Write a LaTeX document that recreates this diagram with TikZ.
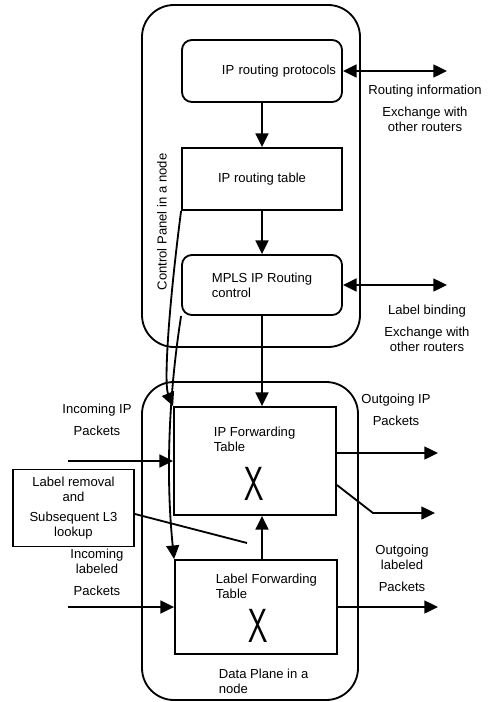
\documentclass[tikz,border=0pt]{standalone}
\usepackage{fontspec}
\setmainfont{Liberation Sans}
\usepackage{graphicx}
\usetikzlibrary{arrows.meta, positioning, calc}
\tikzset{
  every picture/.style={font=\fontsize{9.3}{10.7}\selectfont, line width=1.3pt},
  plane/.style={draw, rounded corners=0.8cm},
  box/.style={draw, minimum width=4cm, minimum height=1.55cm, inner sep=2pt},
  rbox/.style={box, rounded corners=7pt},
  arrow/.style={-{Triangle[length=3.4mm, width=3.2mm]}},
  dblarrow/.style={{Triangle[length=3.4mm, width=3.2mm]}-{Triangle[length=3.4mm, width=3.2mm]}},
  note/.style={align=center, inner sep=0pt},
  bigx/.style={inner sep=0pt, font=\sffamily\fontsize{34}{34}\selectfont},
}

\begin{document}
\begin{tikzpicture}
  \useasboundingbox (0,0) rectangle (12.275,-17.55);
  % the two planes
  \node[plane, minimum width=5.45cm, minimum height=8.55cm] (ctrl) at (6.275,-4.4) {};
  \node[plane, minimum width=5.4cm, minimum height=7.95cm] (data) at (6.25,-13.525) {};
  \node[rotate=90] (ctrltxt) at (4.05,-5.55) {Control Panel in a node};
  \node[note, align=left, anchor=north west] (datatxt) at (5.45,-16.7) {Data Plane in a\\node};
  % control plane
  \node[rbox, align=right, text width=3.7cm] (proto) at (6.55,-1.775) {IP routing protocols};
  \node[box] (table) at (6.55,-4.475) {IP routing table};
  \node[rbox, align=left, minimum height=1.5cm] (mpls) at (6.55,-7.125) {MPLS IP Routing\\control};
  % data plane
  \node[box, minimum width=4.05cm, minimum height=2.7cm] (ipft) at (6.375,-11.525) {};
  \node[note, align=left, anchor=north west] (ipfttxt) at (5.325,-10.66) {IP Forwarding\\Table};
  \node[bigx] (ipftx) at (6.35,-12.1) {\scalebox{0.65}[1]{X}};
  \node[box, minimum width=4.05cm, minimum height=2.35cm] (lft) at (6.4,-15.175) {};
  \node[note, align=left, anchor=north west] (lfttxt) at (5.375,-14.33) {Label Forwarding\\Table};
  \node[bigx] (lftx) at (6.45,-15.65) {\scalebox{0.65}[1]{X}};
  \node[draw, align=center, minimum width=3.025cm, minimum height=1.925cm] (lrm) at (1.8375,-12.7) {Label removal\\and\\[3pt]Subsequent L3\\lookup};
  % side texts
  \node[note, anchor=north] (rinfotxt) at (10.625,-2.11) {Routing information\\[5pt]Exchange with\\other routers};
  \node[note, anchor=north] (lbindtxt) at (10.675,-7.6) {Label binding\\[5pt]Exchange with\\other routers};
  \node[note, anchor=north] (outiptxt) at (9.9,-9.82) {Outgoing IP\\[5pt]Packets};
  \node[note, anchor=north] (iniptxt) at (2.425,-10.07) {Incoming IP\\[5pt]Packets};
  \node[note, anchor=north] (inlabtxt) at (2.425,-13.7) {Incoming\\labeled\\[5pt]Packets};
  \node[note, anchor=north] (outlabtxt) at (10.05,-13.6) {Outgoing\\labeled\\[5pt]Packets};
  % free ends
  \coordinate (rinfo) at (11.175,-1.775);
  \coordinate (lbind) at (11.175,-7.125);
  \coordinate (inip) at (1.7,-11.525);
  \coordinate (inlab) at (1.7,-15.175);
  \coordinate (outip) at (10.95,-11.325);
  \coordinate (knee) at (9.325,-12.825);
  \coordinate (outip2) at (10.875,-12.825);
  \coordinate (outlab) at (10.95,-15.175);
  \coordinate (lrmtip) at (6.175,-13.575);
  % connectors
  \draw[arrow] (proto) -- (table);
  \draw[arrow] (table) -- (mpls);
  \draw[arrow] (mpls.south) -- (mpls.south |- ipft.north);
  \draw[arrow] (lft.north -| mpls.south) -- (ipft.south -| mpls.south);
  \draw[dblarrow] (proto.east) -- (rinfo);
  \draw[dblarrow] (mpls.east) -- (lbind);
  \draw[arrow] (inip) -- (ipft.west);
  \draw[arrow] (inlab) -- (lft.west);
  \draw[arrow] (outip -| ipft.east) -- (outip);
  \draw[arrow] ([yshift=-0.6cm]ipft.east) -- (knee) -- (outip2);
  \draw[arrow] (lft.east) -- (outlab);
  \draw ([yshift=-0.15cm]lrm.east) -- (lrmtip);
  \draw[arrow] (table.south west) .. controls (4.2,-7.8) and (4.1,-9.6) .. (ipft.north west);
  \draw[arrow] (mpls.south west) .. controls (4.2,-10.0) and (4.15,-12.0) .. (lft.north west);
\end{tikzpicture}
\end{document}
